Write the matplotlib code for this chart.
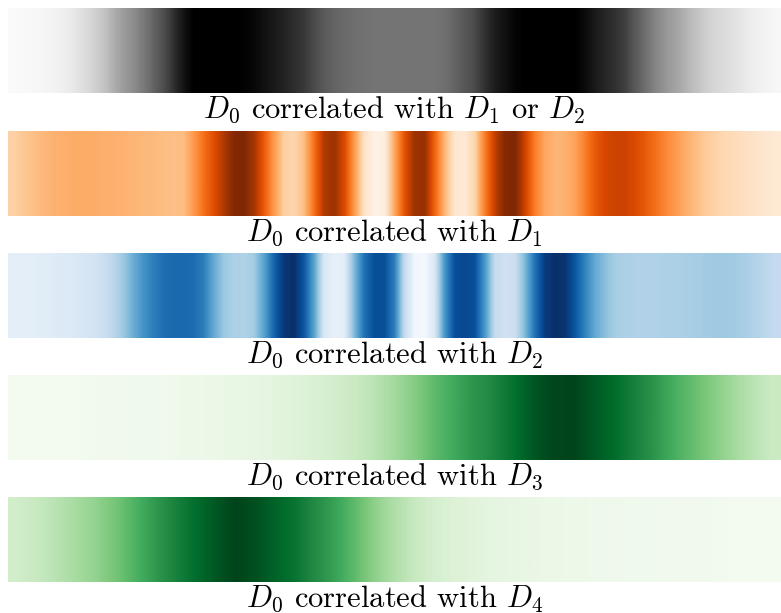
import numpy as np
import matplotlib
matplotlib.use('Agg')
import matplotlib.pyplot as plt

plt.rcParams['font.family'] = 'serif'
plt.rcParams['font.serif'] = ['cmr10']
plt.rcParams['mathtext.fontset'] = 'cm'
plt.rcParams['axes.formatter.use_mathtext'] = True

# correlation strength along each strip (0 = none, 1 = strongest)
corr_d1_or_d2 = [0.04, 0.05, 0.06, 0.08, 0.1, 0.13, 0.17, 0.22, 0.28, 0.34,
                 0.42, 0.48, 0.53, 0.6, 0.68, 0.76, 0.84, 0.93, 1.0, 1.0,
                 1.0, 1.0, 1.0, 0.99, 0.97, 0.94, 0.91, 0.88, 0.85, 0.82,
                 0.77, 0.72, 0.68, 0.66, 0.64, 0.63, 0.62, 0.62, 0.62, 0.62,
                 0.62, 0.62, 0.62, 0.64, 0.68, 0.73, 0.77, 0.84, 0.9, 0.94,
                 0.98, 1.0, 1.0, 1.0, 1.0, 1.0, 1.0, 0.96, 0.91, 0.87,
                 0.84, 0.8, 0.72, 0.64, 0.56, 0.5, 0.46, 0.41, 0.36, 0.3,
                 0.26, 0.23, 0.2, 0.16, 0.13, 0.1, 0.07]

corr_d1 = [0.24, 0.28, 0.31, 0.34, 0.36, 0.37, 0.38, 0.38, 0.38, 0.37,
           0.37, 0.36, 0.35, 0.34, 0.33, 0.32, 0.31, 0.32, 0.45, 0.6,
           0.72, 0.85, 0.98, 1.0, 0.88, 0.68, 0.45, 0.25, 0.22, 0.32,
           0.6, 0.85, 0.9, 0.75, 0.45, 0.15, 0.03, 0.05, 0.4, 0.7,
           0.9, 0.92, 0.65, 0.35, 0.12, 0.1, 0.22, 0.55, 0.8, 0.98,
           1.0, 0.78, 0.55, 0.4, 0.35, 0.36, 0.42, 0.55, 0.68, 0.76,
           0.78, 0.78, 0.74, 0.68, 0.6, 0.52, 0.45, 0.38, 0.32, 0.27,
           0.23, 0.2, 0.18, 0.16, 0.14, 0.12, 0.1]

corr_d2 = [0.1, 0.1, 0.1, 0.11, 0.12, 0.13, 0.14, 0.16, 0.18, 0.22,
           0.28, 0.38, 0.5, 0.62, 0.7, 0.76, 0.78, 0.78, 0.77, 0.7,
           0.52, 0.38, 0.33, 0.32, 0.36, 0.55, 0.8, 0.97, 1.0, 0.85,
           0.55, 0.15, 0.08, 0.1, 0.45, 0.75, 0.88, 0.88, 0.7, 0.25,
           0.03, 0.02, 0.15, 0.6, 0.88, 0.9, 0.88, 0.6, 0.25, 0.2,
           0.22, 0.45, 0.75, 0.95, 1.0, 0.98, 0.85, 0.68, 0.52, 0.42,
           0.35, 0.33, 0.32, 0.32, 0.32, 0.33, 0.33, 0.34, 0.35, 0.36,
           0.37, 0.37, 0.36, 0.34, 0.31, 0.28, 0.25]

corr_d3 = [0.03, 0.03, 0.03, 0.03, 0.04, 0.04, 0.05, 0.05, 0.06, 0.07,
           0.08, 0.1, 0.11, 0.13, 0.15, 0.17, 0.2, 0.24, 0.29, 0.37,
           0.45, 0.55, 0.63, 0.71, 0.77, 0.85, 0.94, 0.99, 1.0, 0.94,
           0.88, 0.8, 0.72, 0.62, 0.54, 0.46, 0.38, 0.3, 0.24]

corr_d4 = [0.21, 0.25, 0.3, 0.36, 0.42, 0.5, 0.6, 0.7, 0.79, 0.87,
           0.94, 1.0, 0.96, 0.9, 0.84, 0.75, 0.66, 0.55, 0.43, 0.33,
           0.25, 0.19, 0.16, 0.14, 0.12, 0.11, 0.09, 0.08, 0.07, 0.06,
           0.06, 0.05, 0.05, 0.04, 0.04, 0.04, 0.03, 0.03, 0.03]

strips = [corr_d1_or_d2, corr_d1, corr_d2, corr_d3, corr_d4]
cmaps = ['Greys', 'Oranges', 'Blues', 'Greens', 'Greens']
labels = [r'$D_0$ correlated with $D_1$ or $D_2$',
          r'$D_0$ correlated with $D_1$',
          r'$D_0$ correlated with $D_2$',
          r'$D_0$ correlated with $D_3$',
          r'$D_0$ correlated with $D_4$']

W, H = 781, 613
fig = plt.figure(figsize=(W / 100, H / 100), dpi=100)

tops = [8, 131, 253, 375, 497]
for top, vals, cmap, lab in zip(tops, strips, cmaps, labels):
    ax = fig.add_axes([8 / W, 1 - (top + 85) / H, 773 / W, 85 / H])
    ax.imshow(np.array(vals)[None, :], cmap=cmap, vmin=0, vmax=1,
              aspect='auto', interpolation='bilinear')
    ax.set_xticks([])
    ax.set_yticks([])
    for s in ax.spines.values():
        s.set_visible(False)
    ax.set_xlabel(lab, fontsize=22, labelpad=1)

fig.savefig('out.png', dpi=100)
